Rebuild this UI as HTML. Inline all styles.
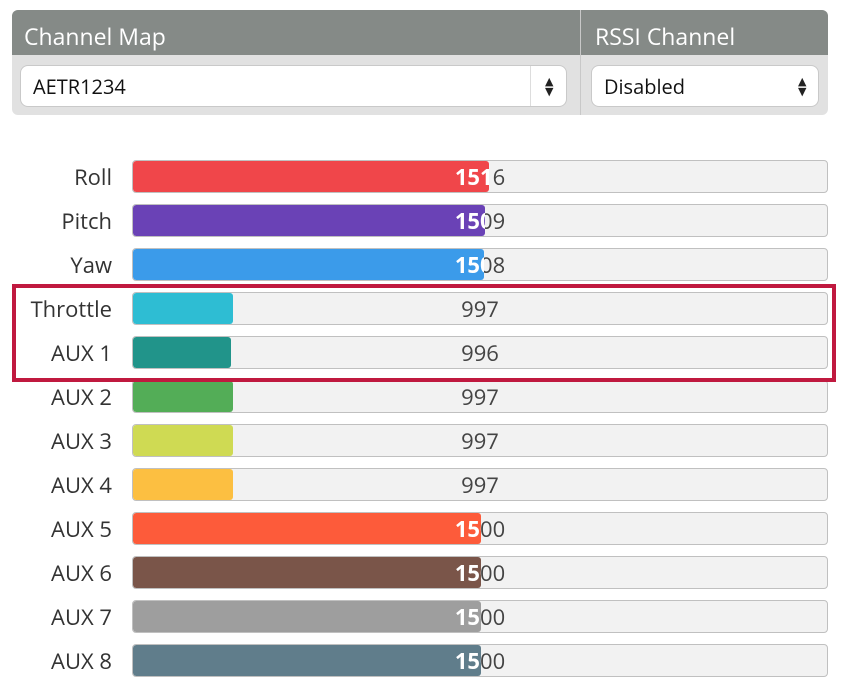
<!DOCTYPE html>
<html><head><style>
body{margin:0;width:844px;height:694px;background:#fff;font-family:"Open Sans","DejaVu Sans","Liberation Sans",sans-serif;position:relative;overflow:hidden}
.hdr{position:absolute;left:12px;top:10px;width:816px;height:105px;border-radius:6px;background:#e1e1e1;overflow:hidden}
.hdr .top{position:absolute;left:0;top:0;width:100%;height:45px;background:#858a87}
.hdr .t{position:absolute;top:10px;color:#fff;font-size:23px}
.hdr .div{position:absolute;left:568px;top:0;width:1px;height:105px;background:#c8c8c8}
.sel{position:absolute;top:65px;height:42px;background:#fff;border:1px solid #c9c9c9;border-radius:8px;box-sizing:border-box;font-size:20px;color:#111;line-height:42px;padding-left:12px}
.arr{position:absolute;top:0;font-size:11px;line-height:10px;color:#222}
.lbl{position:absolute;left:0;width:112px;text-align:right;font-size:22px;color:#333}
.trk{position:absolute;left:132px;width:696px;height:33px;background:#f2f2f2;border:1px solid #c0c0c0;border-radius:4px;box-sizing:border-box;overflow:hidden}
.trk .v{position:absolute;left:0;width:694px;top:1px;text-align:center;font-size:22px;line-height:31px;color:#444}
.fill{position:absolute;left:0;top:0;height:31px;overflow:hidden;border-radius:3px}
.fill .v{color:#fff;font-weight:bold;top:1px}
.box{position:absolute;left:12px;top:284px;width:824px;height:98px;border:4px solid #c0193f;box-sizing:border-box}
</style></head><body>
<div class="hdr"><div class="top"></div>
<div class="t" style="left:12px">Channel Map</div>
<div class="t" style="left:583px">RSSI Channel</div>
<div class="div"></div>
</div>
<div class="sel" style="left:20px;width:547px">AETR1234<div style="position:absolute;left:509px;top:0;width:1px;height:40px;background:#ddd"></div><div class="arr" style="left:524px;top:11px">▲<br>▼</div></div>
<div class="sel" style="left:591px;width:228px">Disabled<div class="arr" style="left:206px;top:11px">▲<br>▼</div></div>

<div id="rows"></div>
<div class="box"></div>
<script>
var d=[["Roll",1516,356,"#f0464a"],["Pitch",1509,352,"#6a42b6"],["Yaw",1508,351,"#3b9bea"],["Throttle",997,100,"#2ebdd3"],["AUX 1",996,98,"#21948a"],["AUX 2",997,100,"#53ad57"],["AUX 3",997,100,"#cfda53"],["AUX 4",997,100,"#fcbf41"],["AUX 5",1500,348,"#fd5b3a"],["AUX 6",1500,348,"#7a5549"],["AUX 7",1500,348,"#9e9e9e"],["AUX 8",1500,348,"#607d8b"]];
var h="";d.forEach(function(r,i){var y=160+i*44;
h+='<div class="lbl" style="top:'+(y+2)+'px">'+r[0]+'</div><div class="trk" style="top:'+y+'px"><div class="v">'+r[1]+'</div><div class="fill" style="width:'+r[2]+'px;background:'+r[3]+'"><div class="v">'+r[1]+'</div></div></div>';});
document.getElementById("rows").innerHTML=h;
</script>
</body></html>
